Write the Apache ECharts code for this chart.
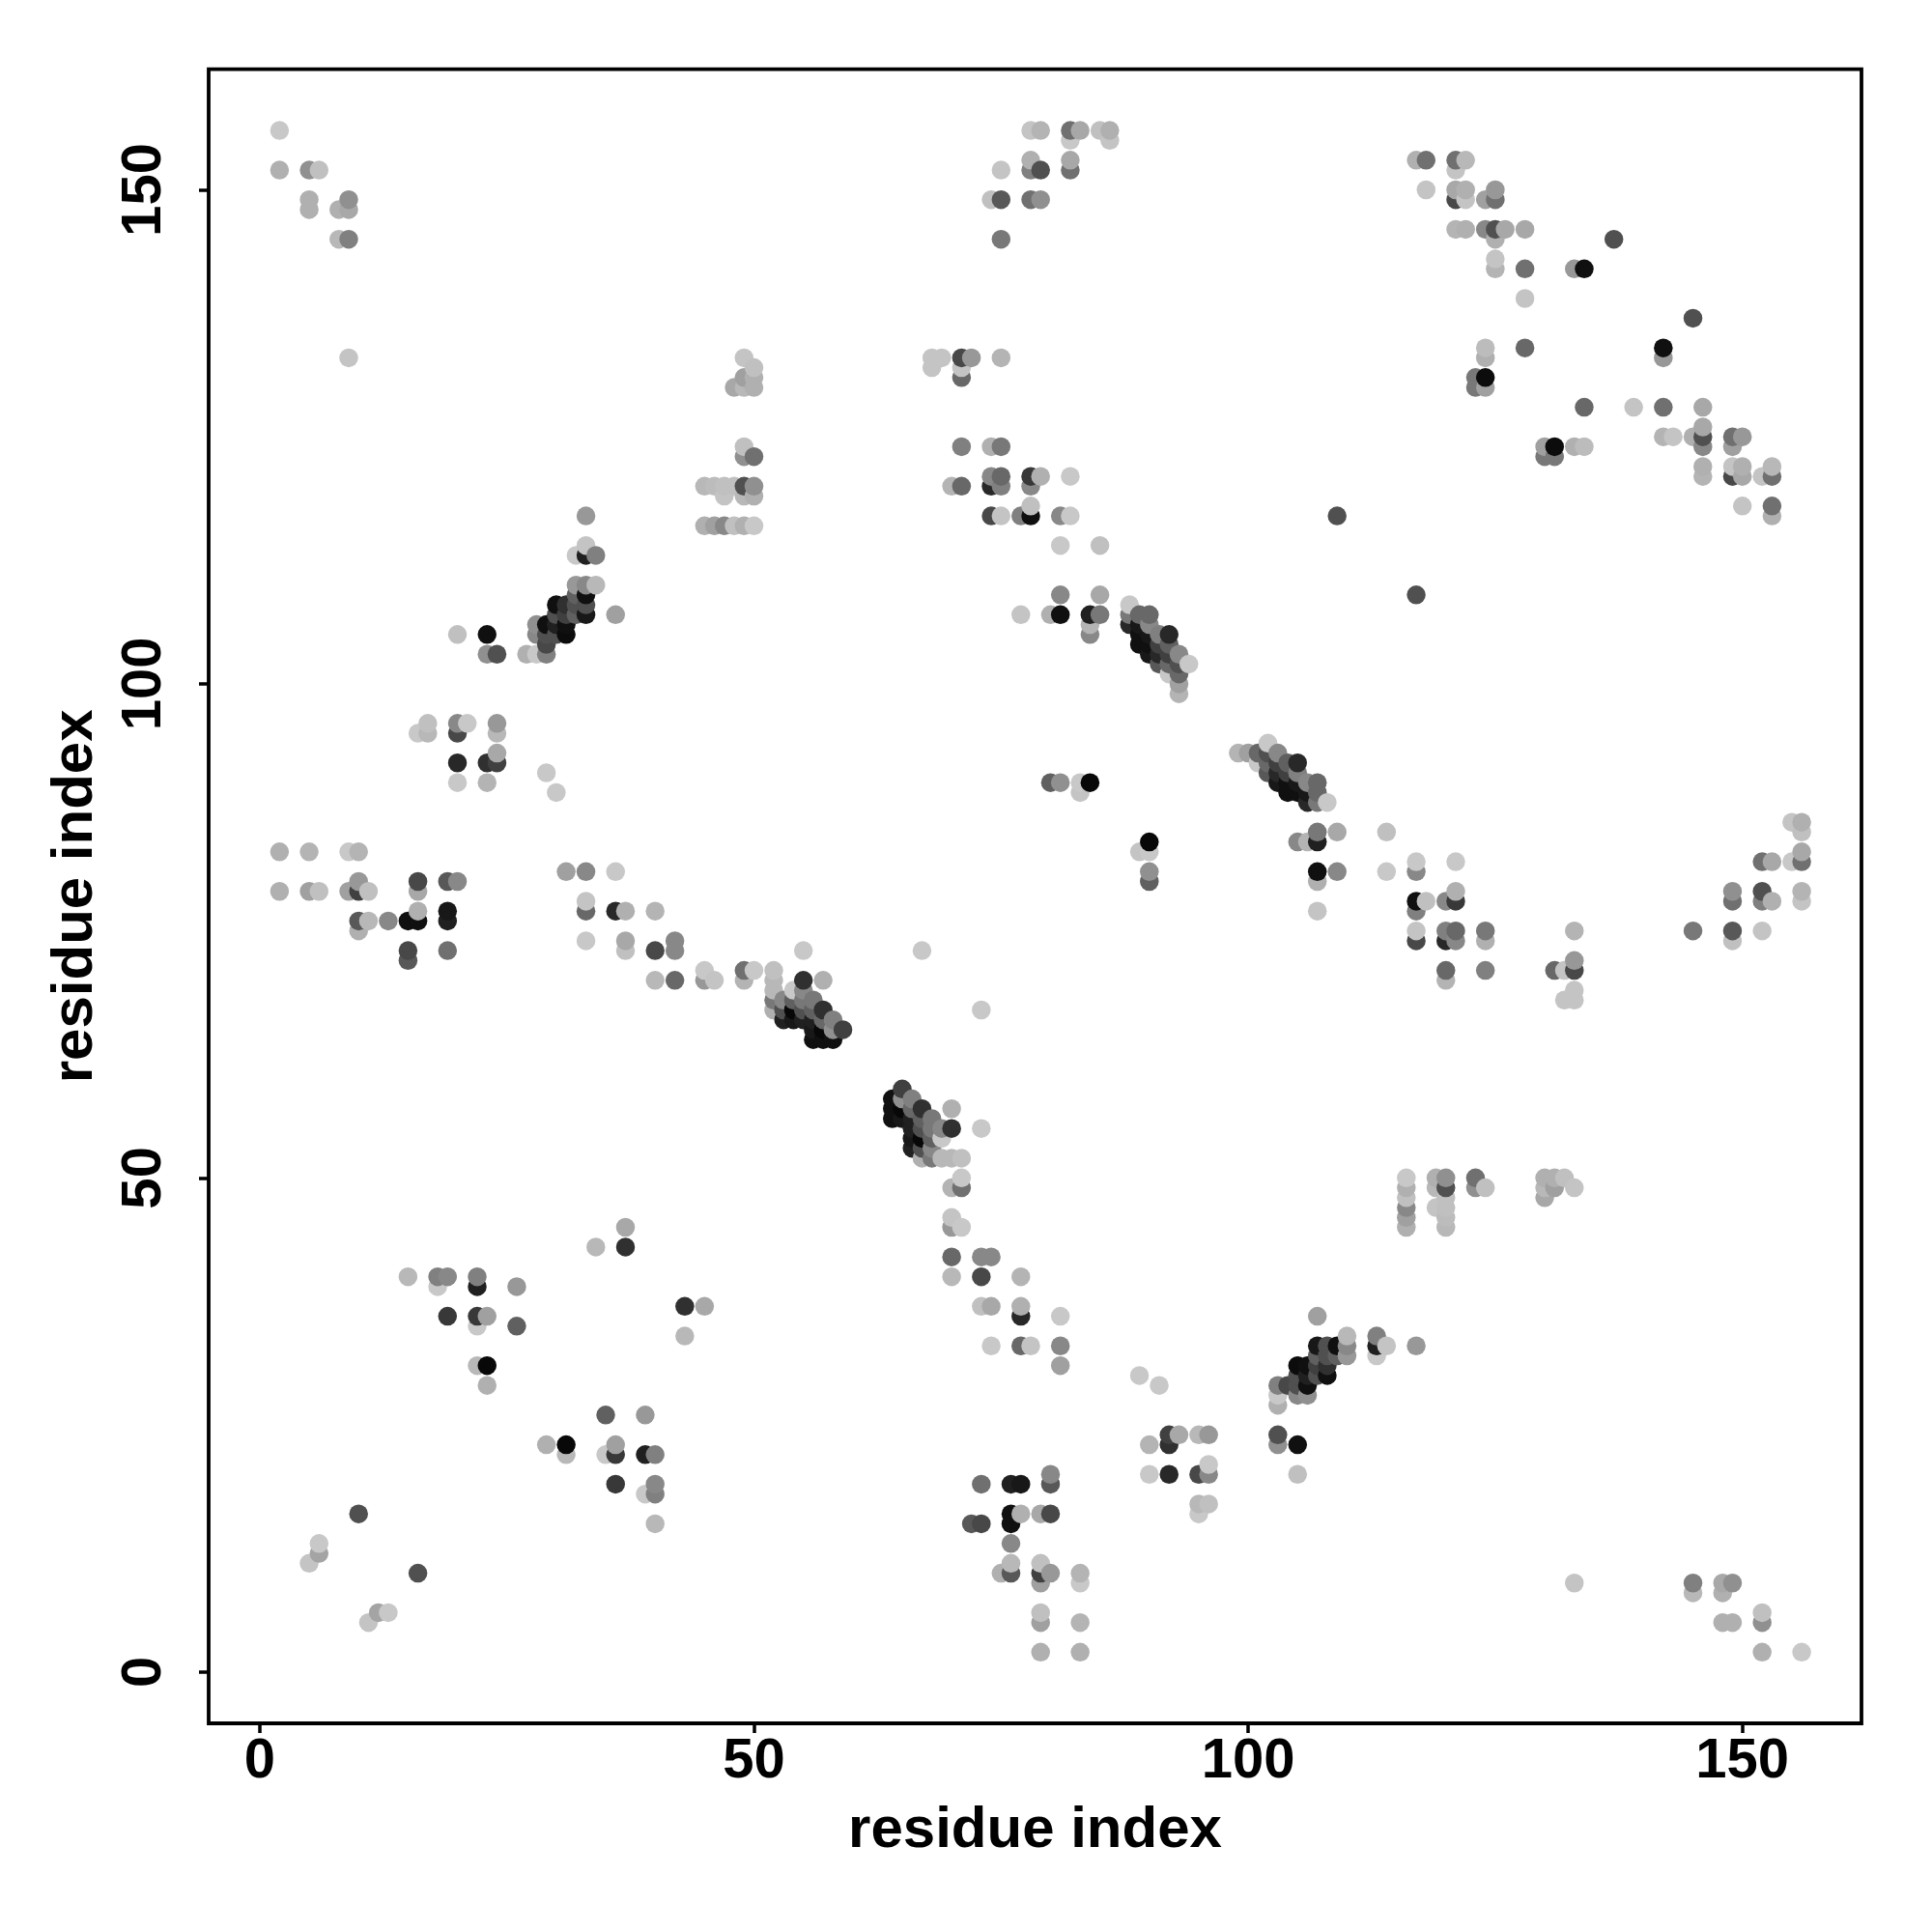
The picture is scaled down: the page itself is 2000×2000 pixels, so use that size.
<!DOCTYPE html>
<html><head><meta charset="utf-8">
<script src="https://cdn.jsdelivr.net/npm/echarts@6/dist/echarts.min.js"></script>
<style>html,body{margin:0;padding:0;background:#fff}#c{width:2000px;height:2000px}</style>
</head><body><div id="c"></div>
<script>
// Contacts as [residue i, residue j, grey level]; the map is symmetric, each pair is drawn at (i,j) and (j,i).
const axisTitle = 'residue index';
const tickValues = [0, 50, 100, 150];
const shortRange = [[5,11,0xc4],[6,12,0xa4],[6,13,0xc8],[10,16,0x50],[15,40,0xb8],[18,40,0x80],[19,40,0x88],[22,40,0x80],[18,39,0xc8],[22,39,0x20],[26,39,0x98],[19,36,0x38],[22,36,0x38],[23,36,0xa0],[22,35,0xc8],[26,35,0x60],[22,31,0xb8],[23,31,0x08],[23,29,0xb0],[34,43,0xb8],[37,43,0x30],[37,45,0xa8]];
const termini = [[2,156,0xc8],[2,152,0xb0],[5,152,0x90],[6,152,0xc0],[5,149,0xb0],[5,148,0xb0],[8,148,0xb0],[9,148,0xa8],[9,149,0x90],[8,145,0xb8],[9,145,0x80],[9,133,0xc4]];
const block45 = [[49,133,0xc4],[50,132,0xc0],[49,131,0xa0],[50,131,0xb0],[48,130,0xa8],[49,130,0xb8],[50,130,0xb0],[49,124,0xc0],[49,123,0x90],[50,123,0x70],[45,120,0xb8],[46,120,0xbc],[47,120,0xc0],[48,120,0xc0],[49,120,0x50],[50,120,0x90],[47,119,0xc4],[49,119,0xb8],[50,119,0xb0],[45,116,0xb0],[46,116,0xa0],[47,116,0x88],[48,116,0xc0],[49,116,0xb0],[50,116,0xc8]];
const sheet30 = [[33,117,0x98],[33,114,0xc4],[32,113,0xc8],[33,113,0x20],[34,113,0x80],[32,110,0x98],[33,110,0x88],[34,110,0xb8],[32,109,0x60],[33,109,0x10],[30,108,0x10],[31,108,0x30],[32,108,0x50],[33,108,0x50],[36,107,0xa0],[33,107,0x18],[32,107,0x60],[31,107,0x40],[30,107,0x50],[28,106,0x90],[29,106,0x10],[30,106,0x20],[31,106,0x10],[23,105,0x10],[20,105,0xc0],[28,105,0x88],[29,105,0x50],[30,105,0x50],[31,105,0x0c],[29,104,0x48],[23,103,0x90],[24,103,0x50],[27,103,0xb0],[28,103,0xc8],[29,103,0x80]];
const block20 = [[17,96,0xc0],[16,95,0xc8],[17,95,0xb8],[20,96,0x88],[21,96,0xc8],[20,95,0x48],[24,96,0x98],[24,95,0xb8],[24,93,0xa8],[20,92,0x28],[23,92,0x30],[24,92,0x40],[20,90,0xc8],[23,90,0xb4],[29,91,0xc8],[30,89,0xc8]];
const block80 = [[2,83,0xb0],[5,83,0xb4],[9,83,0xc8],[10,83,0xb4],[31,81,0xa0],[33,81,0x88],[36,81,0xc8],[10,80,0x98],[16,80,0x48],[19,80,0x58],[20,80,0x88],[2,79,0xb0],[5,79,0xa0],[6,79,0xc0],[9,79,0xa0],[10,79,0x40],[11,79,0xc0],[16,79,0xa8],[16,77,0xb0],[19,77,0x18],[33,78,0xc4],[33,77,0x68],[36,77,0x28],[37,77,0xb0],[40,77,0xb4],[10,76,0x58],[11,76,0xb8],[13,76,0x88],[15,76,0x10],[16,76,0x10],[19,76,0x20],[10,75,0xb0],[33,74,0xc8],[37,74,0xa8],[42,74,0x88],[15,73,0x48],[19,73,0x70],[37,73,0xc0],[40,73,0x48],[42,73,0x88],[15,72,0x58],[45,71,0xc8],[49,71,0x70],[50,71,0xc8],[52,71,0xc0],[40,70,0xb8],[42,70,0x68],[45,70,0x98],[46,70,0xc4],[49,70,0xb4],[52,70,0xb8],[52,69,0xb8],[52,68,0x78],[52,67,0xb0]];
const helixPair = [[54,69,0xc8],[55,73,0xc8],[67,73,0xc8],[55,70,0x30],[57,70,0xb0],[55,69,0x88],[53,68,0x88],[54,68,0x60],[55,68,0x78],[56,68,0x78],[53,67,0x50],[54,67,0x08],[55,67,0x50],[56,67,0x60],[57,67,0x30],[53,66,0x20],[54,66,0x18],[55,66,0x20],[56,66,0x20],[57,66,0x68],[58,66,0x80],[56,65,0x18],[57,65,0x08],[58,65,0x90],[59,65,0x40],[56,64,0x10],[57,64,0x10],[58,64,0x10]];
const lowerMid = [[73,42,0x88],[74,42,0x88],[73,40,0x50],[77,40,0xb0],[73,37,0xc0],[74,37,0xa8],[77,37,0xa8],[77,36,0x28],[81,36,0xc8],[74,33,0xc4],[77,33,0x68],[78,33,0xc0],[81,33,0x84],[81,31,0x9c],[89,30,0xc6],[91,29,0xc8],[92,24,0x40],[93,24,0xa8],[95,24,0xb8],[96,24,0x94],[90,23,0xb2],[92,23,0x30],[103,24,0x54],[103,23,0x94],[105,23,0x10],[90,20,0xc8],[92,20,0x28],[95,20,0x4c],[96,20,0x84],[96,21,0xc6],[105,20,0xc2],[73,19,0x70],[76,19,0x20],[77,19,0x18],[80,19,0x58],[80,20,0x8c],[95,17,0xb8],[96,17,0xc0],[95,16,0xc8],[76,16,0x0c],[77,16,0xb0],[79,16,0xa8],[80,16,0x48],[72,15,0x58],[73,15,0x48],[76,15,0x10],[76,13,0x88],[76,11,0xb4],[79,11,0xb8],[75,10,0xb0],[76,10,0x58],[79,10,0x44],[80,10,0x98],[83,10,0xb4],[83,9,0xc8],[79,6,0xbe],[79,5,0x9c],[83,5,0xb4],[79,2,0xb2],[83,2,0xb0]];
const helixNear = [[70,57,0xb0],[73,55,0xc8],[71,50,0xc4],[70,49,0xb8],[71,49,0x70],[70,46,0xc4],[70,45,0x98],[71,45,0xc4]];
const middle = [[80,90,0x60],[81,90,0x90],[83,90,0xc8],[84,90,0x08],[83,89,0xc4]];
const helixFar = [[88,108,0xc8],[88,107,0x78],[88,106,0x28],[89,107,0x68],[90,107,0x68],[89,106,0x18],[90,106,0x88],[89,105,0x10],[90,105,0x18],[91,105,0x80],[92,105,0x28],[89,104,0x10],[90,104,0x10],[91,104,0x40],[92,104,0x60],[90,103,0x18],[91,103,0x28],[92,103,0x40],[93,103,0x88],[91,102,0x58],[92,102,0x68],[93,102,0x50],[94,102,0xc8],[92,101,0xc8],[93,101,0x68],[93,100,0xa0],[93,99,0xb4]];
const upperMid = [[78,156,0xc4],[79,156,0xb4],[82,156,0x70],[83,156,0xa8],[85,156,0xc0],[86,156,0xb0],[82,155,0xc8],[86,155,0xc4],[78,153,0xb0],[82,153,0xa8],[75,152,0xc4],[78,152,0x80],[79,152,0x50],[82,152,0x70],[74,149,0xc0],[75,149,0x58],[78,149,0x70],[79,149,0x90],[75,145,0x78],[68,133,0xc4],[69,133,0xc4],[71,133,0x48],[72,133,0x98],[75,133,0xb4],[68,132,0xc4],[71,132,0xc4],[71,131,0x68],[71,124,0x80],[74,124,0xb0],[75,124,0x78],[74,121,0x88],[75,121,0x68],[78,121,0x38],[79,121,0xb0],[82,121,0xc8],[70,120,0xb4],[71,120,0x68],[74,120,0x28],[75,120,0x80],[78,120,0x88],[78,118,0xc0],[74,117,0x48],[75,117,0xc4],[77,117,0x80],[78,117,0x10],[81,117,0x88],[82,117,0xc8],[81,114,0xc8],[85,114,0xc0],[81,109,0x88],[85,109,0xa8],[77,107,0xc4],[80,107,0xb0],[81,107,0x10],[84,107,0x20],[85,107,0x78],[84,106,0xb4],[84,105,0x88]];
const farRight = [[90,84,0x00],[89,83,0xc0],[90,83,0xc8],[90,81,0x90],[90,80,0x58],[152,82,0x70],[153,82,0xa8],[155,82,0xc8],[155,86,0xc4]];
const upperRight = [[117,153,0xb0],[118,153,0x70],[121,153,0x70],[122,153,0xb8],[121,152,0xc4],[121,150,0xa8],[122,150,0xb0],[118,150,0xc4],[125,150,0x98],[121,149,0x48],[122,149,0xc4],[124,149,0xa0],[125,149,0x70],[121,146,0xb4],[122,146,0xb0],[124,146,0x88],[125,146,0x50],[126,146,0xa8],[128,146,0xa8],[125,145,0xb0],[137,145,0x50],[125,143,0xc4],[125,142,0xb4],[128,142,0x70],[133,142,0x98],[134,142,0x10],[128,139,0xc4],[124,134,0xbc],[128,134,0x68],[124,133,0xb0],[123,131,0x78],[124,131,0x0c],[123,130,0x78],[124,130,0xa0],[109,117,0x50]];

const groups = [shortRange, termini, block45, sheet30, block20, block80, helixPair, lowerMid, helixNear, middle, helixFar, upperMid, upperRight, farRight];
const seen = {};
const points = [];
function add(x, y, g) { const k = x + '_' + y; if (!seen[k]) { seen[k] = 1; points.push([x, y, g]); } }
groups.forEach(list => list.forEach(p => { add(p[0], p[1], p[2]); add(p[1], p[0], p[2]); }));
points.sort((a, b) => a[0] - b[0] || a[1] - b[1]);

const font = '"Liberation Sans"';
function axis(rotate, nameGap, labelMargin, lo, hi) {
  return {
    type: 'value', min: lo, max: hi, name: axisTitle, nameLocation: 'middle', nameGap: nameGap,
    nameRotate: rotate,
    nameTextStyle: { fontFamily: font, fontWeight: 'bold', fontSize: 60, color: '#000' },
    splitLine: { show: false },
    axisLine: { show: false, onZero: false },
    axisTick: { show: true, length: 10, customValues: tickValues, lineStyle: { color: '#000', width: 3.5 } },
    axisLabel: { show: true, customValues: tickValues, rotate: rotate, margin: labelMargin, fontFamily: font, fontWeight: 'bold', fontSize: 58, color: '#000', formatter: v => String(v) }
  };
}
const chart = echarts.init(document.getElementById('c'), null, { renderer: 'canvas' });
chart.setOption({
  animation: false,
  backgroundColor: '#fff',
  grid: { left: 216, right: 73, top: 71.7, bottom: 216, show: true, borderColor: '#000', borderWidth: 3.8, backgroundColor: 'transparent' },
  xAxis: axis(0, 81, 11, -5.17, 162.05),
  yAxis: axis(90, 108, 37, -5.2, 162.2),
  series: [{
    type: 'scatter', symbol: 'circle', symbolSize: 19.5, data: points,
    itemStyle: { opacity: 1, color: p => { const g = p.data[2]; return 'rgb(' + g + ',' + g + ',' + g + ')'; } }
  }]
});
</script></body></html>
